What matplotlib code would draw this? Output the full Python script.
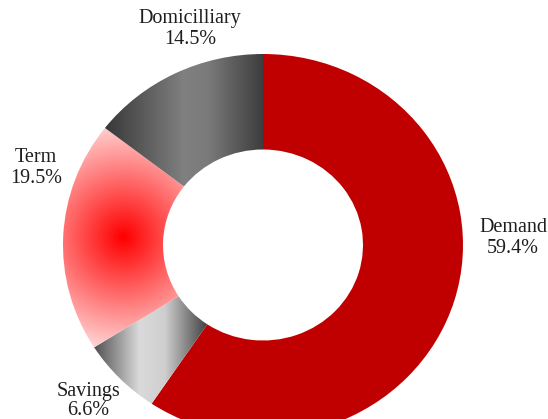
import numpy as np
import matplotlib
matplotlib.use("Agg")
import matplotlib.pyplot as plt
from matplotlib.colors import LinearSegmentedColormap

plt.rcParams['font.family'] = ['Liberation Serif', 'DejaVu Serif']

labels = ['Demand', 'Savings', 'Term', 'Domicilliary']
values = [59.4, 6.6, 19.5, 14.5]
pct_text = ['59.4%', '6.6%', '19.5%', '14.5%']

W, H = 548, 419
cx, cy = 263, 245   # donut centre in pixels
rx, ry = 200, 191   # outer radius (slightly squashed vertically)

fig = plt.figure(figsize=(W / 100, H / 100), dpi=100)
ax = fig.add_axes([0, 0, 1, 1])

wedges, _ = ax.pie(values, colors=['#C00000', 'none', 'none', 'none'],
                   startangle=90, counterclock=False, radius=1,
                   wedgeprops=dict(width=0.5, linewidth=0))

def lin_fill(w, stops):
    ext = w.get_path().get_extents()
    cmap = LinearSegmentedColormap.from_list('g', stops)
    im = ax.imshow(np.linspace(0, 1, 256)[None, :], cmap=cmap, aspect='auto',
                   extent=(ext.x0, ext.x1, ext.y0, ext.y1),
                   interpolation='bicubic', zorder=1)
    im.set_clip_path(w)

def radial_fill(w, c0, c1):
    ext = w.get_path().get_extents()
    xs = np.linspace(ext.x0, ext.x1, 300)
    ys = np.linspace(ext.y0, ext.y1, 300)
    X, Y = np.meshgrid(xs, ys)
    xc, yc = (ext.x0 + ext.x1) / 2, (ext.y0 + ext.y1) / 2
    r = np.hypot((X - xc) * rx, (Y - yc) * ry)
    r = r / r.max()
    cmap = LinearSegmentedColormap.from_list('r', [c0, c1])
    im = ax.imshow(r, cmap=cmap, aspect='auto', origin='lower',
                   extent=(ext.x0, ext.x1, ext.y0, ext.y1),
                   interpolation='bilinear', zorder=1)
    im.set_clip_path(w)

# Savings: dark - light - dark
lin_fill(wedges[1], [(0, '#505050'), (0.4, '#dadada'), (0.62, '#cfcfcf'), (1, '#404040')])
# Term: radial red
radial_fill(wedges[2], '#FF0000', '#FFEAEA')
# Domicilliary: dark - grey - dark
lin_fill(wedges[3], [(0, '#383838'), (0.5, '#808080'), (0.65, '#7a7a7a'), (1, '#3c3c3c')])

ax.set_aspect('auto')
ax.set_xlim(-cx / rx, (W - cx) / rx)
ax.set_ylim(-(H - cy) / ry, cy / ry)
ax.axis('off')

# label positions: centre x, baseline of name, baseline of percentage (pixels)
label_pos = {
    'Demand': (513, 232, 253),
    'Savings': (88, 396, 415),
    'Term': (36, 162, 183),
    'Domicilliary': (190, 23, 44),
}
for name, pct in zip(labels, pct_text):
    x, y1, y2 = label_pos[name]
    fig.text(x / W, 1 - y1 / H, name, ha='center', va='baseline',
             fontsize=14.5, color='#1e1e1e')
    fig.text(x / W, 1 - y2 / H, pct, ha='center', va='baseline',
             fontsize=14.5, color='#1e1e1e')

fig.savefig('out.png', dpi=100)
